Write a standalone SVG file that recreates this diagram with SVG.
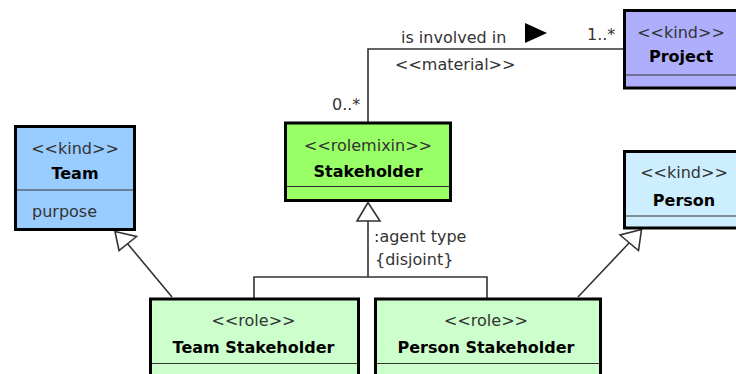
<svg xmlns="http://www.w3.org/2000/svg" width="736" height="374" viewBox="0 0 736 374">
<style>
text{font-family:"DejaVu Sans","Liberation Sans",sans-serif;font-size:16px;fill:#333}
.b{font-weight:bold;fill:#000}
.m{text-anchor:middle}
.box{stroke:#000;stroke-width:3}
.div{stroke:#333;stroke-width:1.2}
.ln{fill:none;stroke:#333;stroke-width:1.6}
.gen{fill:#fff;stroke:#333;stroke-width:1.6}
</style>
<rect width="736" height="374" fill="#fff"/>
<g id="connectors">
<polyline class="ln" points="368,122 368,49 623,49"/>
<polygon points="525,23 525,43 547,33" fill="#000"/>
<text x="401" y="43">is involved in</text>
<text x="395" y="70">&lt;&lt;material&gt;&gt;</text>
<text x="587" y="40">1..*</text>
<text x="332" y="110">0..*</text>
<polyline class="ln" points="254,298 254,277 487,277 487,298"/>
<line class="ln" x1="368" y1="277" x2="368" y2="221"/>
<polygon class="gen" points="368,202.5 357,221 380,221"/>
<text x="374" y="242">:agent type</text>
<text x="375" y="265">{disjoint}</text>
<line class="ln" x1="172" y1="297" x2="127" y2="243"/>
<polygon class="gen" points="115,231.5 119,250.5 136.5,236.5"/>
<line class="ln" x1="578" y1="297" x2="630" y2="242"/>
<polygon class="gen" points="641.5,229.5 620,235 638.5,250.5"/>
</g>
<g id="team">
<rect class="box" x="15.5" y="126.5" width="119" height="103" fill="#99ccff"/>
<line class="div" x1="17" y1="190" x2="133" y2="190"/>
<text class="m" x="75" y="154">&lt;&lt;kind&gt;&gt;</text>
<text class="m b" x="75" y="179">Team</text>
<text x="32" y="217">purpose</text>
</g>
<g id="project">
<rect class="box" x="624.5" y="10.5" width="120" height="77.5" fill="#aeaefc"/>
<line class="div" x1="626" y1="75" x2="740" y2="75"/>
<text class="m" x="681" y="37.5">&lt;&lt;kind&gt;&gt;</text>
<text class="m b" x="681" y="62">Project</text>
</g>
<g id="stakeholder">
<rect class="box" x="285.5" y="123" width="165" height="77.5" fill="#99ff66"/>
<line class="div" x1="287" y1="186.5" x2="449" y2="186.5"/>
<text class="m" x="368" y="150.5">&lt;&lt;rolemixin&gt;&gt;</text>
<text class="m b" x="368" y="176.5">Stakeholder</text>
</g>
<g id="person">
<rect class="box" x="624.5" y="151.5" width="120" height="76.5" fill="#cceeff"/>
<line class="div" x1="626" y1="216" x2="740" y2="216"/>
<text class="m" x="684" y="178">&lt;&lt;kind&gt;&gt;</text>
<text class="m b" x="684" y="206">Person</text>
</g>
<g id="team-stakeholder">
<rect class="box" x="150.5" y="299" width="208" height="100" fill="#ccffcc"/>
<line class="div" x1="152" y1="363.5" x2="357" y2="363.5"/>
<text class="m" x="253.5" y="326">&lt;&lt;role&gt;&gt;</text>
<text class="m b" x="253.5" y="352.5">Team Stakeholder</text>
</g>
<g id="person-stakeholder">
<rect class="box" x="375.5" y="299" width="225" height="100" fill="#ccffcc"/>
<line class="div" x1="377" y1="363.5" x2="599" y2="363.5"/>
<text class="m" x="486" y="326">&lt;&lt;role&gt;&gt;</text>
<text class="m b" x="486" y="352.5">Person Stakeholder</text>
</g>
</svg>
